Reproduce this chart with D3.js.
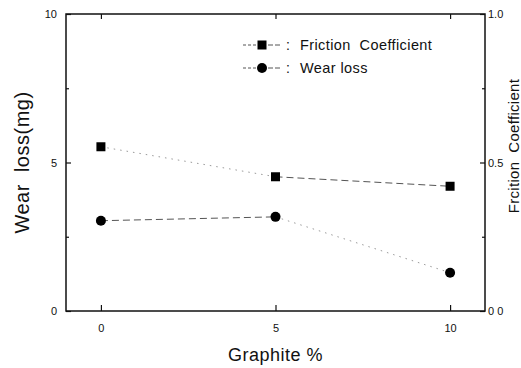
<!DOCTYPE html>
<html>
<head>
<meta charset="utf-8">
<script src="https://cdn.jsdelivr.net/npm/d3@7"></script>
<style>
  body { margin: 0; background: #fff; }
  text { font-family: "Liberation Sans", Arial, sans-serif; fill: #111; }
</style>
</head>
<body>
<div id="chart"></div>
<script>
// data
var graphite = [0, 5, 10];
var wearLoss = [3.04, 3.17, 1.29];          // mg, left axis
var friction = [0.553, 0.452, 0.42];        // right axis
var xTicks = [0, 5, 10];
var leftTicks = [0, 5, 10];
var rightTicks = [0, 0.5, 1.0];
var rightTickLabels = ["0 0", "0.5", "1.0"];
// dash style for each segment (0->5, 5->10)
var frictionDash = ["dot", "dash"];
var wearDash = ["dash", "dot"];

var W = 521, H = 368;
var m = { left: 66, right: 36, top: 14, bottom: 57 };

var svg = d3.select("#chart").append("svg")
    .attr("width", W).attr("height", H);

var x = d3.scaleLinear().domain([-1, 11]).range([m.left, W - m.right]);
var yL = d3.scaleLinear().domain([0, 10]).range([H - m.bottom, m.top]);
var yR = d3.scaleLinear().domain([0, 1]).range([H - m.bottom, m.top]);

var g = svg.append("g");

// frame
g.append("rect")
    .attr("x", x(-1)).attr("y", yL(10))
    .attr("width", x(11) - x(-1)).attr("height", yL(0) - yL(10))
    .attr("fill", "none").attr("stroke", "#111").attr("stroke-width", 1.5);

// axes, ticks inward
var bottomAxis = d3.axisBottom(x).tickValues(xTicks).tickSize(-6).tickPadding(13).tickFormat(d3.format("d"));
var topAxis = d3.axisTop(x).tickValues(xTicks).tickSize(-5).tickFormat("");
var leftAxis = d3.axisLeft(yL).tickValues(leftTicks).tickSize(-5).tickPadding(9).tickFormat(d3.format("d"));
var rightAxis = d3.axisRight(yR).tickValues(rightTicks).tickSize(-5).tickPadding(3)
    .tickFormat(function(d, i) { return rightTickLabels[i]; });

function styleAxis(sel) {
  sel.select(".domain").remove();
  sel.selectAll("line").attr("stroke", "#111").attr("stroke-width", 1.2);
  sel.selectAll("text").style("font-size", "11px").attr("fill", "#111");
}

g.append("g").attr("transform", "translate(0," + yL(0) + ")").call(bottomAxis).call(styleAxis);
g.append("g").attr("transform", "translate(0," + yL(10) + ")").call(topAxis).call(styleAxis);
g.append("g").attr("transform", "translate(" + x(-1) + ",0)").call(leftAxis).call(styleAxis);
g.append("g").attr("transform", "translate(" + x(11) + ",0)").call(rightAxis).call(styleAxis);

// minor ticks
g.append("g").attr("transform", "translate(" + x(-1) + ",0)")
    .call(d3.axisLeft(yL).tickValues([2.5, 7.5]).tickSize(-3).tickFormat("")).call(styleAxis);
g.append("g").attr("transform", "translate(" + x(11) + ",0)")
    .call(d3.axisRight(yR).tickValues([0.25, 0.75]).tickSize(-3).tickFormat("")).call(styleAxis);

function dashOf(kind) { return kind == "dot" ? "1.5,5" : "7,4"; }
function colorOf(kind) { return kind == "dot" ? "#9a9a9a" : "#555"; }

// connecting segments
function segments(vals, yScale, dashes) {
  for (var i = 0; i < vals.length - 1; i++) {
    g.append("line")
      .attr("x1", x(graphite[i])).attr("y1", yScale(vals[i]))
      .attr("x2", x(graphite[i + 1])).attr("y2", yScale(vals[i + 1]))
      .attr("stroke", colorOf(dashes[i])).attr("stroke-width", 1)
      .attr("stroke-dasharray", dashOf(dashes[i]));
  }
}
segments(friction, yR, frictionDash);
segments(wearLoss, yL, wearDash);

// markers
g.selectAll("rect.fr").data(friction).enter().append("rect")
    .attr("class", "fr")
    .attr("x", function(d, i) { return x(graphite[i]) - 4.5; })
    .attr("y", function(d) { return yR(d) - 4.5; })
    .attr("width", 9).attr("height", 9).attr("fill", "#000");

g.selectAll("circle.wl").data(wearLoss).enter().append("circle")
    .attr("class", "wl")
    .attr("cx", function(d, i) { return x(graphite[i]); })
    .attr("cy", function(d) { return yL(d); })
    .attr("r", 5).attr("fill", "#000");

// legend
var legend = [
  { name: "Friction\u00a0 Coefficient", shape: "square", y: 45 },
  { name: "Wear loss", shape: "circle", y: 68 }
];
legend.forEach(function(l) {
  var lg = svg.append("g").attr("transform", "translate(262," + l.y + ")");
  lg.append("line").attr("x1", -19).attr("x2", -6).attr("y1", 0).attr("y2", 0)
    .attr("stroke", "#555").attr("stroke-dasharray", "3,2");
  lg.append("line").attr("x1", 6).attr("x2", 19).attr("y1", 0).attr("y2", 0)
    .attr("stroke", "#555").attr("stroke-dasharray", "5,2");
  if (l.shape == "square")
    lg.append("rect").attr("x", -4.5).attr("y", -4.5).attr("width", 9).attr("height", 9).attr("fill", "#000");
  else
    lg.append("circle").attr("r", 5).attr("fill", "#000");
  lg.append("text").attr("x", 24).attr("y", 5).style("font-size", "14px").attr("fill", "#999").text(":");
  lg.append("text").attr("x", 38).attr("y", 5).style("font-size", "14.5px")
    .style("letter-spacing", "0.4px").text(l.name);
});

// axis titles
svg.append("text").attr("x", x(5)).attr("y", 361).attr("text-anchor", "middle")
    .style("font-size", "18px").style("letter-spacing", "0.5px").text("Graphite %");

svg.append("text").attr("transform", "translate(29," + yL(5) + ") rotate(-90)")
    .attr("text-anchor", "middle").style("font-size", "20px").style("letter-spacing", "0.5px")
    .text("Wear\u00a0 loss(mg)");

svg.append("text").attr("transform", "translate(519,146) rotate(-90)")
    .attr("text-anchor", "middle").style("font-size", "15px").style("letter-spacing", "0.3px")
    .text("Frcition\u00a0 Coefficient");
</script>
</body>
</html>
